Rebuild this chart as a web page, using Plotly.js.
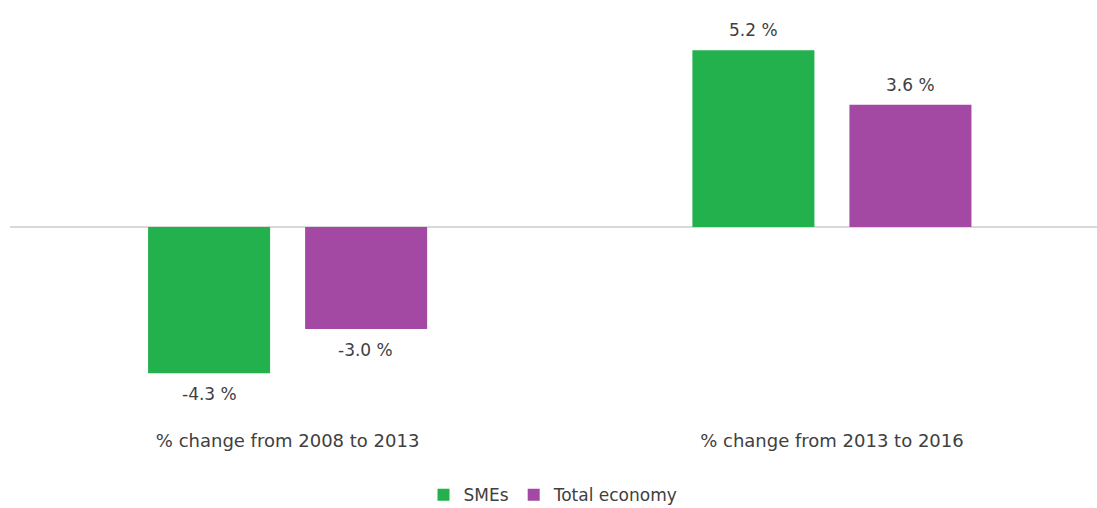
<!DOCTYPE html>
<html>
<head>
<meta charset="utf-8">
<script src="https://cdn.plot.ly/plotly-3.0.1.min.js"></script>
<style>html,body{margin:0;padding:0;background:#fff;}#chart{width:1097px;height:508px;}</style>
</head>
<body>
<div id="chart"></div>
<script>
var categories = ["% change from 2008 to 2013", "% change from 2013 to 2016"];
var smes = [-4.3, 5.2];
var totalEconomy = [-3.0, 3.6];
var seriesNames = ["SMEs", "Total economy"];
var colors = ["#22b14c", "#a349a4"];

var textColor = "#404040";
var fontFam = "DejaVu Sans, sans-serif";

var traces = [
  {type: "bar", name: seriesNames[0], x: [0, 1], y: smes, marker: {color: colors[0]}, hoverinfo: "skip"},
  {type: "bar", name: seriesNames[1], x: [0, 1], y: totalEconomy, marker: {color: colors[1]}, hoverinfo: "skip"}
];

var offsets = [-0.144, 0.144];
var annotations = [];
[smes, totalEconomy].forEach(function (vals, s) {
  vals.forEach(function (v, i) {
    annotations.push({
      x: i + offsets[s], y: v, xref: "x", yref: "y",
      text: v.toFixed(1) + " %", showarrow: false,
      yanchor: "middle", yshift: v >= 0 ? 20 : -21,
      font: {family: fontFam, size: 17, color: textColor}
    });
  });
});

var layout = {
  width: 1097, height: 508,
  margin: {l: 10, r: 0, t: 0, b: 83, autoexpand: false},
  paper_bgcolor: "#ffffff", plot_bgcolor: "#ffffff",
  barmode: "group", bargap: 0.423, bargroupgap: 0.223,
  showlegend: true,
  legend: {orientation: "h", x: 0.5, xanchor: "center", y: -0.165, yanchor: "middle",
           font: {family: fontFam, size: 17, color: textColor}, traceorder: "normal"},
  xaxis: {type: "linear", range: [-0.51, 1.487], tickmode: "array", tickvals: [0, 1], ticktext: categories,
          showgrid: false, zeroline: false, showline: false, ticks: "", ticklabelstandoff: 3, automargin: false,
          tickfont: {family: fontFam, size: 18, color: textColor}},
  yaxis: {range: [-5.82, 6.68], showgrid: false, showticklabels: false, ticks: "", automargin: false,
          zeroline: true, zerolinecolor: "#d9d9d9", zerolinewidth: 1.5, showline: false},
  annotations: annotations
};

Plotly.newPlot("chart", traces, layout, {displayModeBar: false, staticPlot: true});
</script>
</body>
</html>
